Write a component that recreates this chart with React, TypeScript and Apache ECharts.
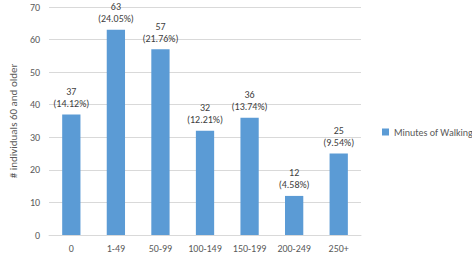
import React, { useEffect, useRef } from "react";
import * as echarts from "echarts";

const categories = ["0", "1-49", "50-99", "100-149", "150-199", "200-249", "250+"];
const counts = [37, 63, 57, 32, 36, 12, 25];
const percents = ["14.12%", "24.05%", "21.76%", "12.21%", "13.74%", "4.58%", "9.54%"];
const seriesName = "Minutes of Walking";
const yAxisName = "# individuals 60 and older";

export default function App() {
  const ref = useRef<HTMLDivElement>(null);
  useEffect(() => {
    const chart = echarts.init(ref.current!, null, { renderer: "svg" });
    const font = "Calibri, Lato, 'Liberation Sans', sans-serif";
    chart.setOption({
      animation: false,
      textStyle: { fontFamily: font },
      grid: { left: 35, right: 111, top: 7, bottom: 18, containLabel: false },
      legend: {
        orient: "vertical",
        left: 377,
        top: 122,
        itemWidth: 7,
        itemHeight: 7,
        icon: "rect",
        textStyle: { color: "#595959", fontSize: 10, fontFamily: font },
        data: [seriesName],
      },
      xAxis: {
        type: "category",
        data: categories,
        axisLine: { lineStyle: { color: "#d9d9d9" } },
        axisTick: { show: false },
        axisLabel: { color: "#595959", fontSize: 10, margin: 8 },
      },
      yAxis: {
        type: "value",
        min: 0,
        max: 70,
        interval: 10,
        name: yAxisName,
        nameLocation: "middle",
        nameGap: 27,
        nameTextStyle: { color: "#595959", fontSize: 11 },
        axisLine: { show: false },
        axisTick: { show: false },
        axisLabel: { color: "#595959", fontSize: 10, margin: 9 },
        splitLine: { lineStyle: { color: "#d9d9d9" } },
      },
      series: [
        {
          name: seriesName,
          type: "bar",
          data: counts,
          barWidth: "41%",
          itemStyle: { color: "#5B9BD5" },
          label: {
            show: true,
            position: "top",
            distance: 5,
            color: "#404040",
            fontSize: 10,
            lineHeight: 12,
            formatter: (p: any) => `${p.value}\n(${percents[p.dataIndex]})`,
          },
        },
      ],
    });
    return () => chart.dispose();
  }, []);
  return <div ref={ref} style={{ width: 472, height: 253, position: "absolute", left: 0, top: 0, background: "#fff" }} />;
}
